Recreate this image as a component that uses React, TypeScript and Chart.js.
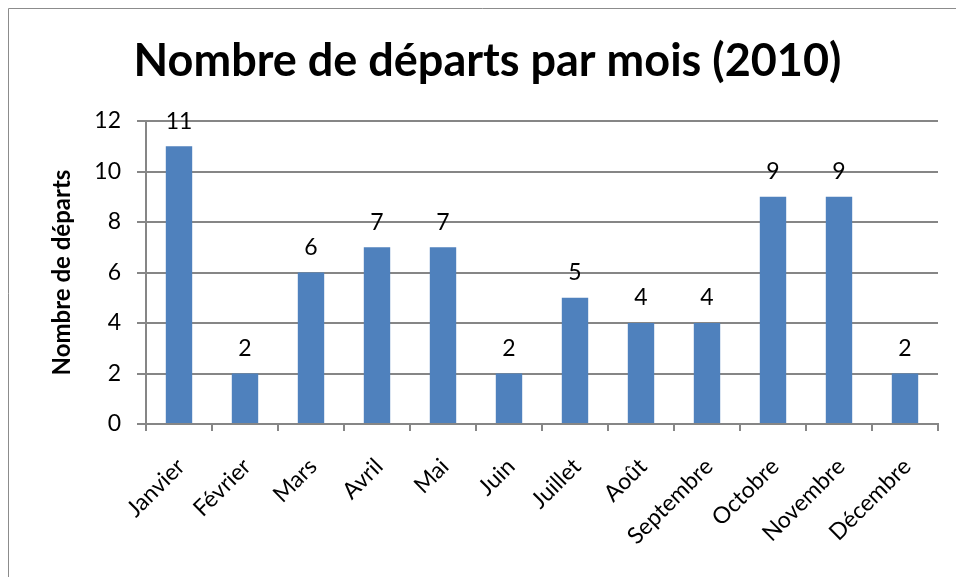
import React, { useEffect, useRef } from "react";
import { Chart, registerables } from "chart.js";

Chart.register(...registerables);

const TITLE = "Nombre de départs par mois (2010)";
const Y_TITLE = "Nombre de départs";
const MONTHS = [
  "Janvier", "Février", "Mars", "Avril", "Mai", "Juin",
  "Juillet", "Août", "Septembre", "Octobre", "Novembre", "Décembre",
];
const DEPARTS = [11, 2, 6, 7, 7, 2, 5, 4, 4, 9, 9, 2];

const FONT = "Lato, 'Open Sans', sans-serif";
const GRID = "#868686";
const BAR = "#4F81BD";

const borderPlugin = {
  id: "frame",
  beforeDraw(chart: any) {
    const ctx = chart.ctx;
    ctx.save();
    ctx.fillStyle = "#ffffff";
    ctx.fillRect(0, 0, chart.width, chart.height);
    ctx.strokeStyle = "#8c8c8c";
    ctx.lineWidth = 1;
    ctx.beginPath();
    ctx.moveTo(8.5, chart.height + 5);
    ctx.lineTo(8.5, 8.5);
    ctx.lineTo(chart.width + 5, 8.5);
    ctx.stroke();
    ctx.restore();
  },
};

const valueLabels = {
  id: "valueLabels",
  afterDatasetsDraw(chart: any) {
    const ctx = chart.ctx;
    const meta = chart.getDatasetMeta(0);
    const data = chart.data.datasets[0].data;
    ctx.save();
    ctx.font = `23px ${FONT}`;
    ctx.fillStyle = "#000";
    ctx.textAlign = "center";
    ctx.textBaseline = "middle";
    meta.data.forEach((el: any, i: number) => {
      ctx.fillText(String(data[i]), el.x, el.y - 25);
    });
    ctx.restore();
  },
};

export default function App() {
  const ref = useRef<HTMLCanvasElement>(null);
  useEffect(() => {
    if (!ref.current) return;
    const chart = new Chart(ref.current, {
      type: "bar",
      data: {
        labels: MONTHS,
        datasets: [
          {
            label: Y_TITLE,
            data: DEPARTS,
            backgroundColor: BAR,
            borderWidth: 0,
            categoryPercentage: 1,
            barPercentage: 0.4,
          },
        ],
      },
      options: {
        animation: false,
        responsive: true,
        maintainAspectRatio: false,
        layout: { padding: { left: 37, right: 18, top: 0, bottom: 0 } },
        plugins: {
          legend: { display: false },
          tooltip: { enabled: false },
          title: {
            display: true,
            text: TITLE,
            color: "#000",
            font: { family: FONT, size: 45, weight: "bold", lineHeight: 1.2 },
            padding: { top: 34, bottom: 33 },
          },
        },
        scales: {
          x: {
            offset: true,
            grid: {
              offset: true,
              drawOnChartArea: false,
              drawTicks: true,
              tickLength: 7,
              color: GRID,
              tickColor: GRID,
              lineWidth: 2,
            },
            border: { display: true, color: GRID, width: 2 },
            ticks: {
              color: "#000",
              font: { family: FONT, size: 23 },
              maxRotation: 45,
              minRotation: 45,
              padding: 22,
              labelOffset: 2,
              autoSkip: false,
            },
            afterFit(scale: any) {
              scale.height = 153;
            },
          },
          y: {
            min: 0,
            max: 12,
            ticks: {
              stepSize: 2,
              color: "#000",
              font: { family: FONT, size: 23 },
              padding: 16,
            },
            grid: {
              color: GRID,
              tickColor: GRID,
              tickLength: 9,
              lineWidth: 2,
            },
            border: { display: true, color: GRID, width: 2 },
            title: {
              display: true,
              text: Y_TITLE,
              color: "#000",
              font: { family: FONT, size: 24, weight: "bold", lineHeight: 1.2 },
              padding: { top: 11, bottom: 0 },
            },
            afterFit(scale: any) {
              scale.width = 109;
            },
          },
        },
      },
      plugins: [borderPlugin, valueLabels],
    });
    return () => chart.destroy();
  }, []);
  return (
    <div style={{ position: "absolute", left: 0, top: 0, width: 956, height: 577 }}>
      <canvas ref={ref} />
    </div>
  );
}
